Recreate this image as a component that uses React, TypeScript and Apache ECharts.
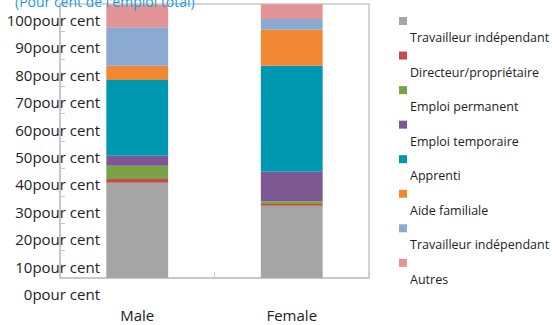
import React, { useEffect, useRef } from "react";
import * as echarts from "echarts";

const categories = ["Male", "Female"];
const seriesNames = [
  "Travailleur indépendant",
  "Directeur/propriétaire",
  "Emploi permanent",
  "Emploi temporaire",
  "Apprenti",
  "Aide familiale",
  "Travailleur indépendant",
  "Autres",
];
const seriesColors = ["#a5a5a5", "#c64b4b", "#7aa345", "#7c5792", "#0097b0", "#f28734", "#8aaad2", "#e39496"];
const values = [
  [34.8, 26.4],
  [1.35, 0.6],
  [4.85, 1.0],
  [3.65, 10.8],
  [27.6, 38.7],
  [5.2, 13.1],
  [14.1, 3.9],
  [8.2, 5.4],
];
const yTicks = [0, 10, 20, 30, 40, 50, 60, 70, 80, 90, 100];
const titleText = "(Pour cent de l'emploi total)";
const FONT = "'Open Sans', sans-serif";

export default function App() {
  const ref = useRef<HTMLDivElement>(null);
  useEffect(() => {
    if (!ref.current) return;
    const chart = echarts.init(ref.current, null, { renderer: "svg" });
    const legendGraphics: any[] = [];
    seriesNames.forEach((name, i) => {
      const iconY = 21 + 34.55 * i;
      legendGraphics.push({
        type: "rect",
        left: 399,
        top: iconY - 4,
        shape: { width: 8, height: 8 },
        style: { fill: seriesColors[i] },
      });
      legendGraphics.push({
        type: "text",
        left: 410,
        top: iconY + 19 - 9,
        style: { text: name, fill: "#222", font: `12.5px ${FONT}` },
      });
    });
    chart.setOption({
      animation: false,
      textStyle: { fontFamily: FONT },
      title: {
        text: titleText,
        left: 15,
        top: -6,
        padding: 0,
        textStyle: { color: "#1e9bd7", fontSize: 14, fontWeight: "normal", fontFamily: FONT },
      },
      grid: {
        left: 60,
        top: 4,
        right: 183,
        bottom: 47,
        show: true,
        borderColor: "#c8c8c8",
        borderWidth: 1.5,
        outerBoundsMode: "none",
        containLabel: false,
      },
      xAxis: {
        type: "category",
        data: categories,
        axisLine: { show: true, lineStyle: { color: "#c8c8c8", width: 2 } },
        axisTick: { show: true, inside: true, length: 6, lineStyle: { color: "#c8c8c8" } },
        axisLabel: { margin: 29, color: "#222", fontSize: 15, fontFamily: FONT },
      },
      yAxis: {
        type: "value",
        min: yTicks[0],
        max: yTicks[yTicks.length - 1],
        interval: 10,
        splitLine: { show: false },
        axisLine: { show: true, lineStyle: { color: "#c8c8c8", width: 2 } },
        axisTick: { show: true, inside: true, length: 5, lineStyle: { color: "#c8c8c8" } },
        axisLabel: {
          formatter: (v: number) => `\n${v}pour cent`,
          margin: -40,
          align: "right",
          verticalAlign: "top",
          lineHeight: 10.7,
          showMinLabel: true,
          showMaxLabel: true,
          color: "#222",
          fontSize: 15,
          fontFamily: FONT,
        },
      },
      series: seriesNames.map((name, i) => ({
        name,
        type: "bar",
        stack: "total",
        barWidth: "40%",
        itemStyle: { color: seriesColors[i] },
        data: values[i],
      })),
      graphic: legendGraphics,
    });
    return () => chart.dispose();
  }, []);
  return (
    <div
      ref={ref}
      style={{ position: "absolute", left: 0, top: 0, width: 552, height: 325 }}
    />
  );
}
